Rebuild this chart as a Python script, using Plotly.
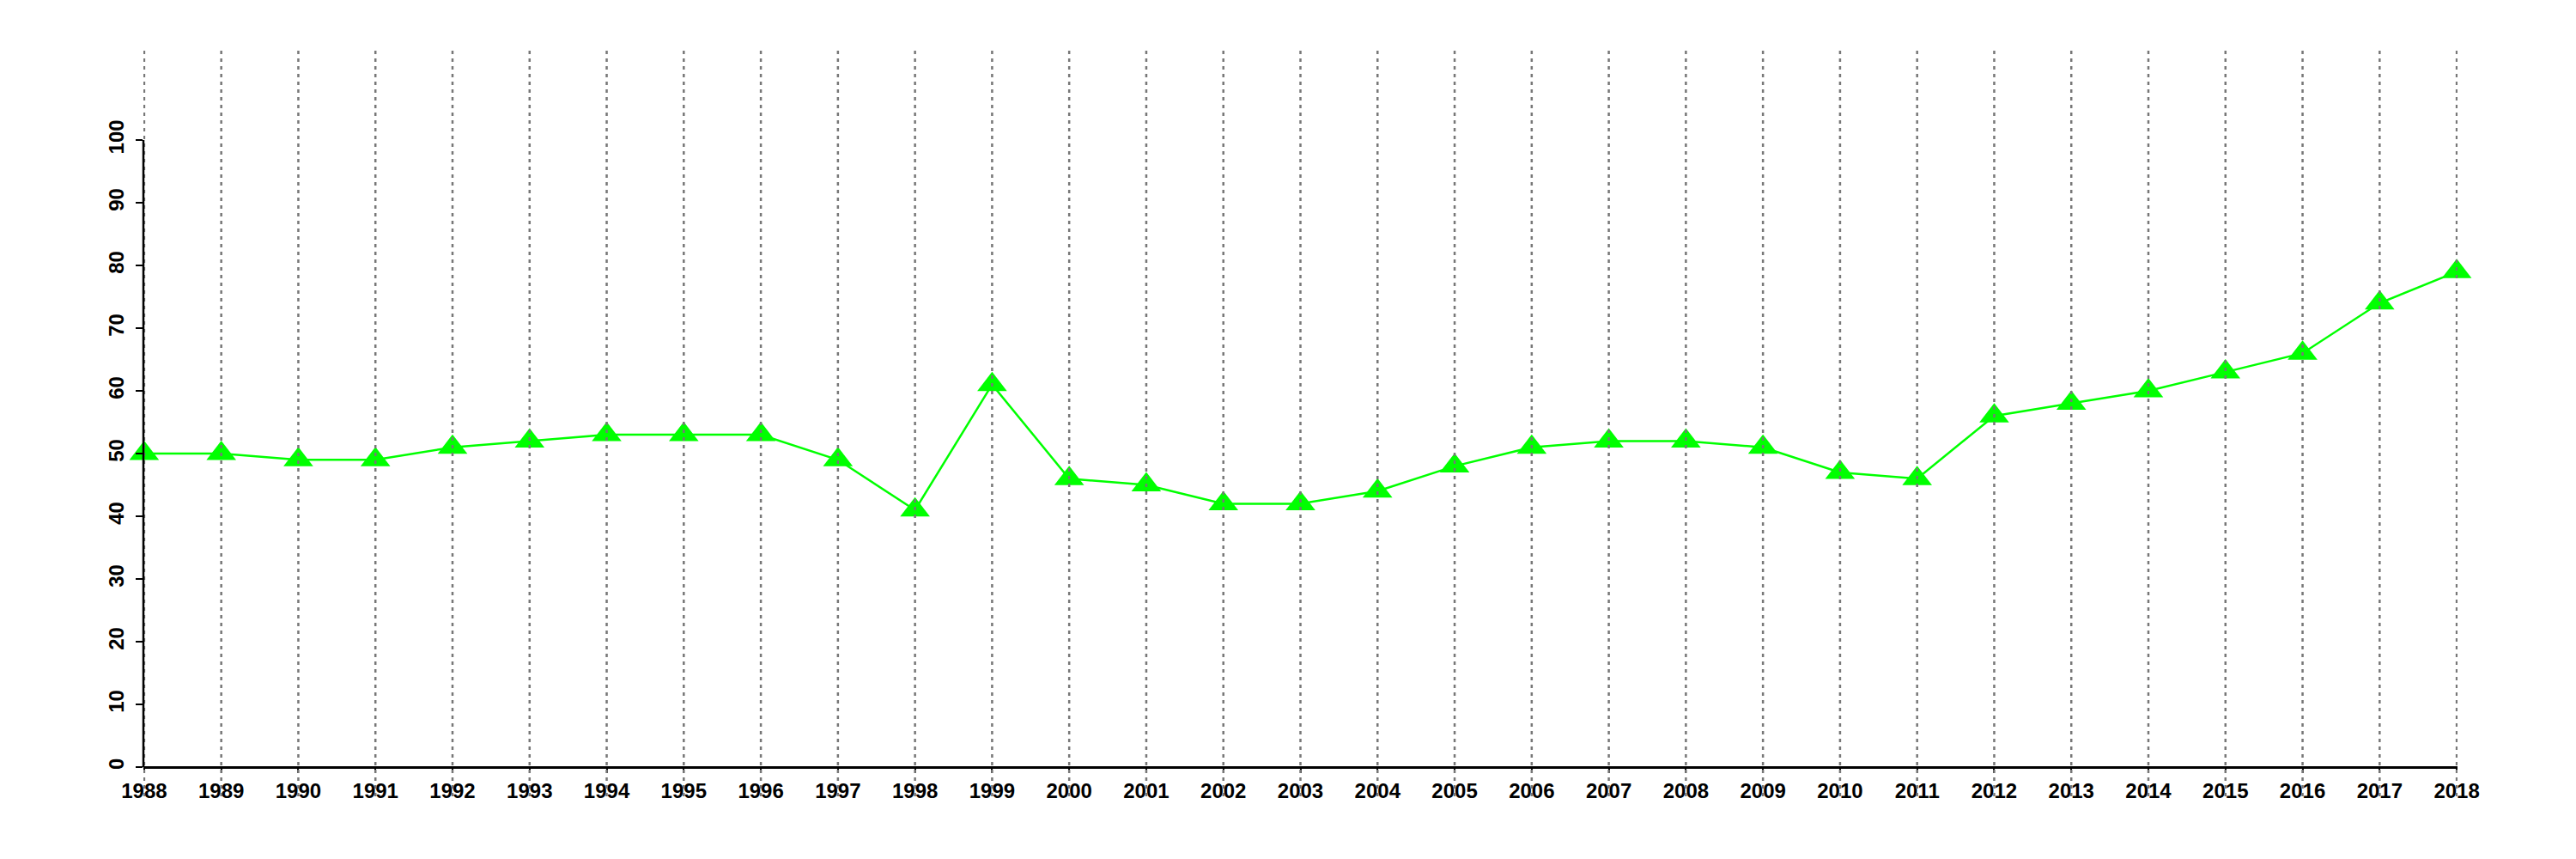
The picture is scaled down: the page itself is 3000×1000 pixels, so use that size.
import plotly.graph_objects as go

years = list(range(1988, 2019))
values = [50, 50, 49, 49, 51, 52, 53, 53, 53, 49, 41, 61, 46, 45, 42, 42, 44, 48,
          51, 52, 52, 51, 47, 46, 56, 58, 60, 63, 66, 74, 79]
y_ticks = list(range(0, 101, 10))

Y_MIN, Y_MAX = -4.66, 114.25
X_MIN, X_MAX = years[0] - 0.01, years[-1] + 0.01

fig = go.Figure()
fig.add_trace(go.Scatter(
    x=years, y=values, mode="lines+markers",
    line=dict(color="#00ff00", width=2.5),
    marker=dict(symbol="triangle-up", size=30, color="#00ff00"),
    cliponaxis=False, showlegend=False,
))

shapes = []
for yr in years:
    shapes.append(dict(type="line", xref="x", yref="paper", x0=yr, x1=yr, y0=0, y1=1,
                       line=dict(color="#777777", width=2.5, dash="4px,5px"), layer="above"))
# y axis line from 0 to 100
shapes.append(dict(type="line", xref="paper", yref="y", x0=0, x1=0, y0=y_ticks[0], y1=y_ticks[-1],
                   line=dict(color="black", width=2.5), layer="above"))

font = dict(family="Liberation Sans, Arial, sans-serif", size=24, color="black")

fig.update_layout(
    width=3000, height=1000,
    margin=dict(l=159, r=146, t=51, b=81, pad=0, autoexpand=False),
    paper_bgcolor="white", plot_bgcolor="white",
    shapes=shapes,
    xaxis=dict(
        range=[X_MIN, X_MAX], tickmode="array", tickvals=years, ticktext=[str(y) for y in years],
        showgrid=False, zeroline=False, showline=True, linecolor="black", linewidth=2.5,
        ticks="outside", ticklen=5, tickwidth=2, tickcolor="black",
        anchor="free", position=(0 - Y_MIN) / (Y_MAX - Y_MIN), automargin=False,
        tickfont=dict(font, weight="bold"), tickangle=0,
    ),
    yaxis=dict(
        range=[Y_MIN, Y_MAX], tickmode="array", tickvals=y_ticks, automargin=False,
        showgrid=False, zeroline=False, showline=False,
        ticks="outside", ticklen=8, tickwidth=2, tickcolor="black",
        tickangle=-90, tickfont=dict(font, weight="bold"), ticklabelstandoff=4,
    ),
)

fig.write_html("out.html")
